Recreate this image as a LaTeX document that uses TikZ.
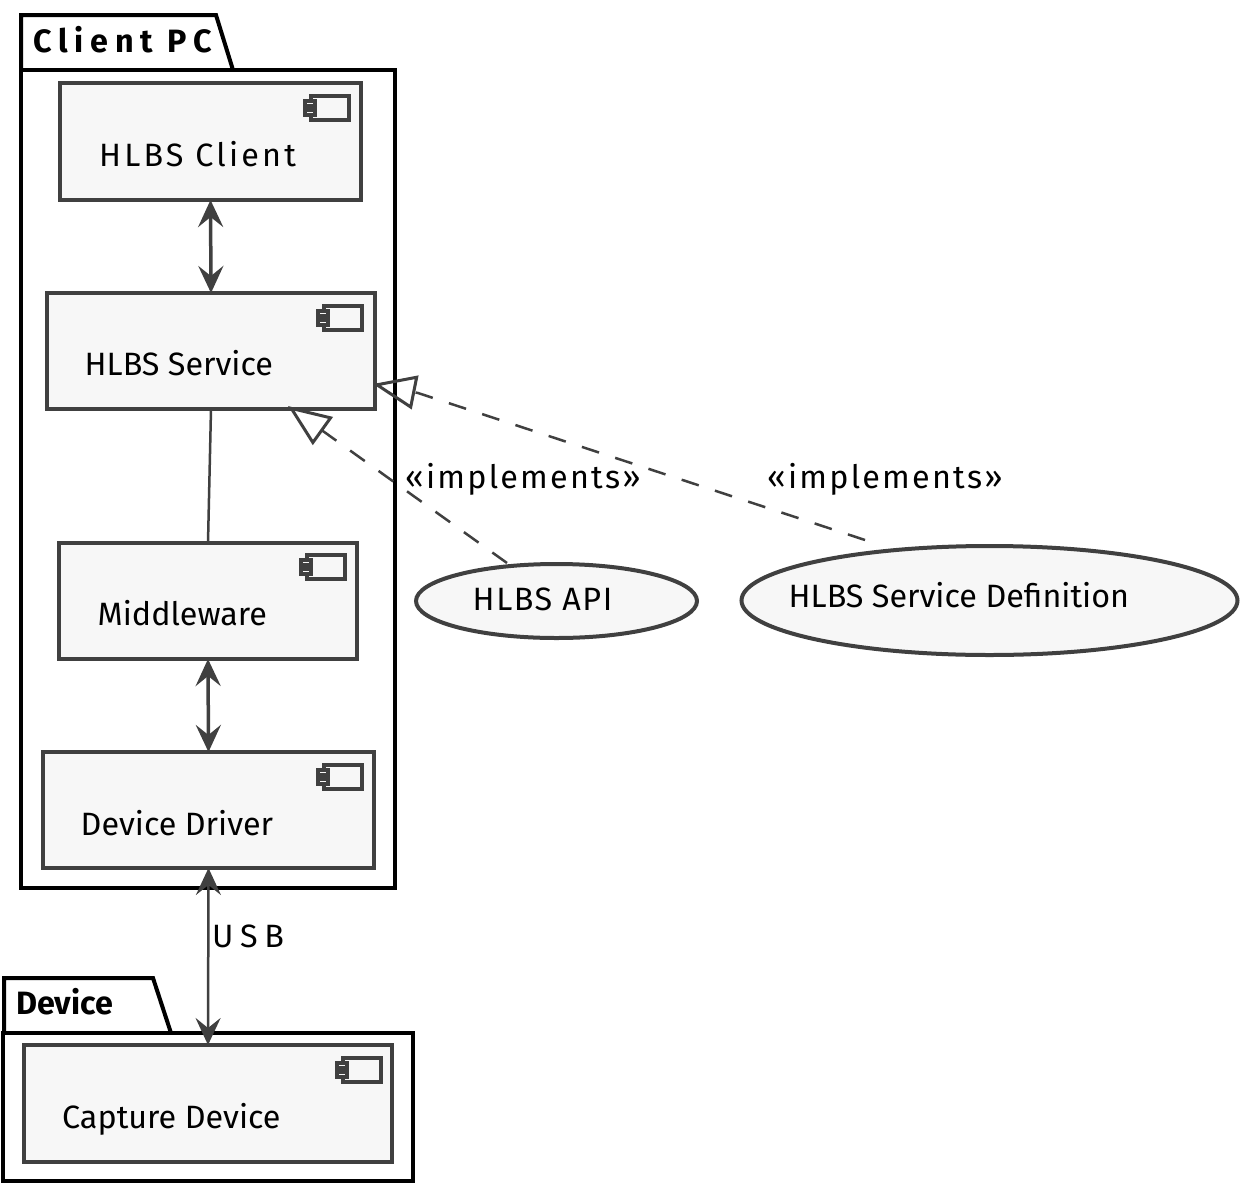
\documentclass[tikz,border=0pt]{standalone}
\usepackage{fontspec}
\setmainfont{Fira Sans}
\newfontfamily\spA[LetterSpace=10]{Fira Sans}
\newfontfamily\spB[LetterSpace=7]{Fira Sans}
\newfontfamily\spC[LetterSpace=21,BoldFont={Fira Sans Bold}]{Fira Sans}
\newfontfamily\spD[LetterSpace=5]{Fira Sans}
\usetikzlibrary{arrows.meta,shapes.geometric}
\definecolor{edgec}{HTML}{404040}
\definecolor{fillc}{HTML}{F7F7F7}
\tikzset{
  x=1pt,y=-1pt,
  pkg/.style={draw=black,line width=4pt,fill=white,rectangle,outer sep=0pt,inner sep=0pt,line join=miter},
  comp/.style={draw=edgec,line width=4pt,fill=fillc,rectangle,outer sep=0pt,inner sep=0pt},
  usecase/.style={draw=edgec,line width=4pt,fill=fillc,ellipse,outer sep=0pt,inner sep=0pt},
  txt/.style={anchor=base west,inner sep=0pt,text=black,font=\fontsize{32.3}{38}\selectfont},
  boldtxt/.style={txt,font=\fontsize{32.3}{38}\selectfont\bfseries},
  dbl/.style={draw=edgec,line width=3.5pt,{Stealth[length=27pt,width=25pt,inset=10pt]}-{Stealth[length=27pt,width=25pt,inset=10pt]}},
  realize/.style={draw=edgec,line width=2.5pt,dash pattern=on 18pt off 17pt,-{Triangle[open,length=43pt,width=34pt,line width=3pt]}},
  icon/.pic={
    \draw[edgec,line width=4pt,fill=fillc] (-38,0) rectangle (0,24);
    \draw[edgec,line width=3.5pt,fill=fillc] (-43.5,5) rectangle (-33.5,10);
    \draw[edgec,line width=3.5pt,fill=fillc] (-43.5,14) rectangle (-33.5,19);
  }
}
\begin{document}
\begin{tikzpicture}
\useasboundingbox (0,0) rectangle (1254,1189);
\fill[white] (0,0) rectangle (1254,1189);
% packages
\draw[pkg] (21,70) -- (21,15) -- (216,15) -- (233,70);
\node[pkg,minimum width=374pt,minimum height=818pt] (pc) at (208,479) {};
\draw[pkg] (4,1033) -- (4,978) -- (153,978) -- (171,1033);
\node[pkg,minimum width=410pt,minimum height=148pt] (dev) at (208,1107) {};
% components
\node[comp,minimum width=301pt,minimum height=117pt] (client) at (210.5,141.5) {};
\node[comp,minimum width=328pt,minimum height=116pt] (svc) at (211,351) {};
\node[comp,minimum width=298pt,minimum height=116pt] (mw) at (208,601) {};
\node[comp,minimum width=331pt,minimum height=116pt] (drv) at (208.5,810) {};
\node[comp,minimum width=368pt,minimum height=117pt] (cap) at (208,1103.5) {};
\pic at (348.5,96) {icon};
\pic at (361.5,306) {icon};
\pic at (344.5,555) {icon};
\pic at (361.5,765) {icon};
\pic at (380.5,1058) {icon};
% use cases
\node[usecase,minimum width=281pt,minimum height=74pt] (api) at (556.5,601) {};
\node[usecase,minimum width=496pt,minimum height=109pt] (def) at (989.5,600.5) {};
% connectors
\coordinate (svcA) at (288,406);
\coordinate (svcB) at (373,384);
\coordinate (apiT) at (507,563);
\coordinate (defT) at (865,540);
\coordinate (defK) at (418,393);
\draw[dbl] (client.south) -- (svc.north);
\draw[draw=edgec,line width=2.5pt] (svc.south) -- (mw.north);
\draw[dbl] (mw.south) -- (drv.north);
\draw[dbl,line width=2.5pt] (drv.south) -- (cap.north);
\draw[realize] (apiT) -- (svcA);
\draw[realize] (defT) -- (defK) -- (svcB);
% labels
\node[boldtxt] (tpc) at (33,52) {\spC\bfseries Client PC};
\node[boldtxt] (tdev) at (16,1014) {Device};
\node[txt] (tclient) at (99,166) {\spA HLBS Client};
\node[txt] (tsvc) at (84.5,375) {HLBS Service};
\node[txt] (tmw) at (97.5,625) {Middleware};
\node[txt] (tdrv) at (80.5,835) {Device Driver};
\node[txt] (tcap) at (62,1128) {Capture Device};
\node[txt] (tapi) at (472.5,610) {\spD HLBS API};
\node[txt] (tdef) at (788.5,607) {HLBS Service Definition};
\node[txt] (timp1) at (405,488) {\spB «implements»};
\node[txt] (timp2) at (767,488) {\spB «implements»};
\node[txt] (tusb) at (212,947) {\spC USB};
\end{tikzpicture}
\end{document}
